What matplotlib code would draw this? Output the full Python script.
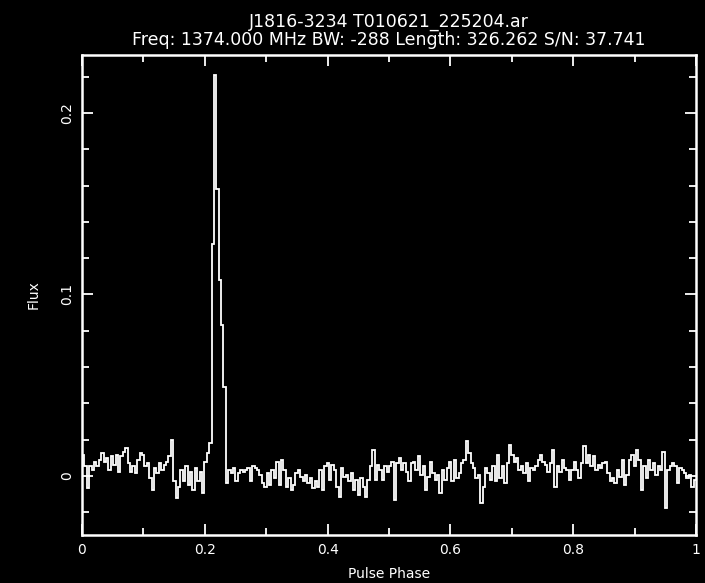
#!/usr/bin/env python3
"""Pulse profile plot, psrchive/pgplot look (white on black)."""

import numpy as np
import matplotlib
matplotlib.use('Agg')
import matplotlib.pyplot as plt

title_lines = ['J1816-3234 T010621_225204.ar',
               'Freq: 1374.000 MHz BW: -288 Length: 326.262 S/N: 37.741']

n_bins = 256

# off-pulse baseline before the pulse (bins 0-52)
flux_pre = [
  0.0116, 0.0052, -0.0068, 0.0052, 0.0033, 0.0079, 0.0052, 0.0088, 0.0125, 0.0079,
  0.0098, 0.0033, 0.0107, 0.0061, 0.0116, 0.0024, 0.0107, 0.0134, 0.0153, 0.0070,
  0.0024, 0.0052, 0.0015, 0.0088, 0.0125, 0.0116, 0.0052, 0.0070, -0.0013, -0.0077,
  0.0042, 0.0015, 0.0070, 0.0033, 0.0061, 0.0079, 0.0107, 0.0199, -0.0031, -0.0123,
  -0.0059, 0.0033, -0.0031, 0.0052, -0.0050, 0.0024, -0.0077, 0.0042, -0.0031, 0.0024,
  -0.0096, 0.0079, 0.0125,
]

# the pulse itself (bins 53-59)
flux_pulse = [0.018, 0.128, 0.221, 0.158, 0.108, 0.083, 0.049]

# off-pulse baseline after the pulse (bins 60-255)
flux_post = [
  -0.0041, 0.0033, 0.0015, 0.0042, -0.0031, 0.0015, 0.0033, 0.0024, 0.0033, 0.0042,
  -0.0031, 0.0052, 0.0042, 0.0033, 0.0006, -0.0041, -0.0059, 0.0015, -0.0050, 0.0033,
  -0.0013, 0.0079, -0.0050, 0.0088, 0.0033, -0.0059, -0.0013, -0.0077, -0.0050, 0.0015,
  0.0033, -0.0004, -0.0031, 0.0006, -0.0041, -0.0013, -0.0068, -0.0031, -0.0059, 0.0033,
  -0.0077, 0.0052, 0.0070, -0.0022, 0.0061, 0.0033, -0.0059, -0.0114, 0.0042, -0.0004,
  0.0006, -0.0031, 0.0015, -0.0077, -0.0022, -0.0105, -0.0013, -0.0059, -0.0114, -0.0022,
  0.0052, 0.0144, -0.0022, 0.0061, 0.0033, -0.0022, 0.0052, 0.0024, 0.0052, 0.0079,
  -0.0133, 0.0070, 0.0098, 0.0033, 0.0070, 0.0024, -0.0031, 0.0070, 0.0079, 0.0033,
  0.0107, 0.0006, 0.0052, -0.0077, -0.0004, 0.0079, 0.0015, -0.0022, 0.0006, -0.0096,
  0.0033, -0.0022, 0.0042, 0.0079, -0.0031, 0.0088, -0.0013, 0.0015, 0.0070, 0.0088,
  0.0190, 0.0125, 0.0070, 0.0042, -0.0013, 0.0006, -0.0151, -0.0059, 0.0042, 0.0015,
  -0.0022, 0.0052, -0.0031, 0.0116, -0.0013, 0.0052, -0.0041, 0.0070, 0.0171, 0.0116,
  0.0079, 0.0098, 0.0033, 0.0052, 0.0015, 0.0070, -0.0031, 0.0042, 0.0033, 0.0052,
  0.0088, 0.0116, 0.0079, 0.0061, 0.0024, 0.0070, 0.0144, -0.0059, 0.0052, 0.0024,
  0.0088, 0.0042, 0.0033, -0.0022, 0.0033, 0.0079, 0.0033, -0.0013, 0.0070, 0.0162,
  0.0070, 0.0116, 0.0052, 0.0107, 0.0033, 0.0061, 0.0042, 0.0070, 0.0079, 0.0015,
  -0.0031, -0.0013, -0.0041, 0.0033, -0.0004, 0.0088, -0.0050, 0.0006, 0.0088, 0.0116,
  0.0052, 0.0144, 0.0088, -0.0077, 0.0052, -0.0013, 0.0088, 0.0033, 0.0070, 0.0006,
  0.0052, 0.0033, 0.0134, -0.0179, 0.0033, 0.0052, 0.0070, 0.0052, -0.0041, 0.0042,
  0.0033, 0.0015, -0.0013, 0.0006, -0.0059, -0.0022,
]

x_ticks = [0, 0.2, 0.4, 0.6, 0.8, 1]
x_tick_labels = ['0', '0.2', '0.4', '0.6', '0.8', '1']
y_ticks = [0, 0.1, 0.2]
y_tick_labels = ['0', '0.1', '0.2']


def main():
  flux = np.array(flux_pre + flux_pulse + flux_post)
  edges = np.linspace(0, 1, n_bins + 1)

  plt.rcParams['font.family'] = ['DejaVu Sans']
  fig = plt.figure(figsize=(7.05, 5.83), dpi=100, facecolor='black')
  ax = fig.add_axes([0.1163, 0.0823, 0.8709, 0.8234], facecolor='black')

  ax.stairs(flux, edges, baseline=None, color='white', linewidth=1.3)

  ax.set_xlim(0, 1)
  ax.set_ylim(-0.0326, 0.232)

  ax.set_xticks(x_ticks)
  ax.set_xticklabels(x_tick_labels)
  ax.set_xticks(np.arange(0.1, 1.0, 0.2), minor=True)
  ax.set_yticks(y_ticks)
  ax.set_yticklabels(y_tick_labels, rotation=90, va='center')
  ax.set_yticks([-0.02, 0.02, 0.04, 0.06, 0.08, 0.12, 0.14, 0.16, 0.18, 0.22], minor=True)

  ax.tick_params(which='both', direction='in', top=True, right=True,
                 colors='white', labelsize=10, width=1.3)
  ax.tick_params(which='major', length=8, pad=6)
  ax.tick_params(which='minor', length=5)
  for spine in ax.spines.values():
    spine.set_color('white')
    spine.set_linewidth(1.8)

  ax.set_xlabel('Pulse Phase', color='white', fontsize=10, labelpad=7)
  ax.set_ylabel('Flux', color='white', fontsize=10, labelpad=14)
  ax.set_title('\n'.join(title_lines), color='white', fontsize=12.5,
               linespacing=1.05, pad=7)

  fig.savefig('out.png', dpi=100, facecolor='black')


if __name__ == "__main__":
  main()
